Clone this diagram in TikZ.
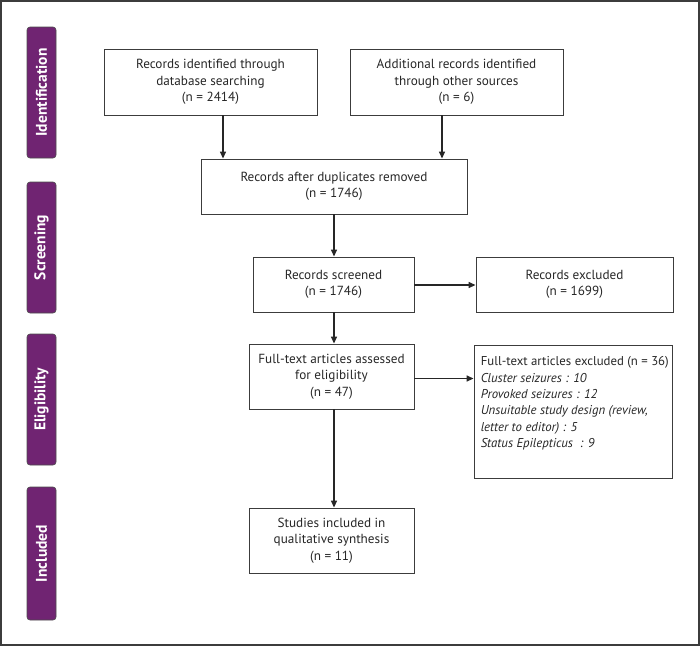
\documentclass[tikz,border=0pt]{standalone}
\usepackage{fontspec}
\setmainfont{PT Sans}
\usetikzlibrary{arrows.meta,calc}
\definecolor{barpurple}{RGB}{112,36,114}
\definecolor{linegrey}{RGB}{60,60,60}
\begin{document}
\begin{tikzpicture}[x=1pt,y=-1pt,
  box/.style={draw=linegrey, line width=0.9pt, align=center, inner sep=2pt,
    font=\fontsize{13.2}{16.5}\selectfont, text=black!85},
  bar/.style={draw=black!70, line width=0.6pt, fill=barpurple, rounded corners=3pt,
    minimum width=29pt, text=white, font=\bfseries\fontsize{15.5}{16}\selectfont},
  arr/.style={line width=1.5pt, draw=black!85, -{Triangle[length=7pt,width=6pt]}}]
\useasboundingbox (0,0) rectangle (700,646);
\draw[linegrey, line width=1.6pt] (0.8,0.8) rectangle (699.2,645.2);
% side bars
\node[bar, minimum height=131pt] (pid) at (41.5,92.5) {\rotatebox{90}{Identification}};
\node[bar, minimum height=131pt] (psc) at (41.5,247.5) {\rotatebox{90}{Screening}};
\node[bar, minimum height=131pt] (pel) at (41.5,399.5) {\rotatebox{90}{Eligibility}};
\node[bar, minimum height=133pt] (pin) at (41.5,553.5) {\rotatebox{90}{Included}};
% boxes
\node[box, minimum width=213pt, minimum height=66pt] (b1) at (210.5,82)
  {Records identified through\\database searching\\(n = 2414)};
\node[box, minimum width=213pt, minimum height=66pt] (b2) at (456.5,82)
  {Additional records identified\\through other sources\\(n = 6)};
\node[box, minimum width=266pt, minimum height=55pt] (b3) at (334,186.5)
  {Records after duplicates removed\\(n = 1746)};
\node[box, minimum width=161pt, minimum height=55pt] (b4) at (333.5,284.5)
  {Records screened\\(n = 1746)};
\node[box, minimum width=197pt, minimum height=55pt] (b5) at (574.5,284.5)
  {Records excluded\\(n = 1699)};
\node[box, minimum width=165pt, minimum height=65pt] (b6) at (331.5,376.5)
  {Full-text articles assessed\\for eligibility\\(n = 47)};
\node[box, minimum width=198pt, minimum height=133pt] (b7) at (573,411.5) {};
\node[anchor=north west, align=left, inner sep=0pt, text=black!85,
  font=\fontsize{12.8}{16.3}\selectfont] (b7t) at ([xshift=7pt,yshift=-12pt]b7.north west)
  {Full-text articles excluded (n = 36)\\
   \textit{Cluster seizures : 10}\\
   \textit{Provoked seizures : 12}\\
   \textit{Unsuitable study design (review,}\\
   \textit{letter to editor) : 5}\\
   \textit{Status Epilepticus\ \ : 9}};
\node[box, minimum width=165pt, minimum height=65pt] (b8) at (331.5,540.5)
  {Studies included in\\qualitative synthesis\\(n = 11)};
% arrows
\draw[arr] ([xshift=12.5pt]b1.south) -- ([xshift=12.5pt]b1.south |- b3.north);
\draw[arr] ([xshift=-14.5pt]b2.south) -- ([xshift=-14.5pt]b2.south |- b3.north);
\draw[arr] (b3.south) -- (b3.south |- b4.north);
\draw[arr] ([xshift=0.5pt]b4.south) -- ([xshift=0.5pt]b4.south |- b6.north);
\draw[arr] ([xshift=2.5pt]b6.south) -- ([xshift=2.5pt]b6.south |- b8.north);
\draw[arr] ([yshift=-0.5pt]b4.east) -- ([yshift=-0.5pt]b4.east -| b5.west);
\draw[arr] ([yshift=-2pt]b6.east) -- ([yshift=-2pt]b6.east -| b7.west);
\end{tikzpicture}
\end{document}
